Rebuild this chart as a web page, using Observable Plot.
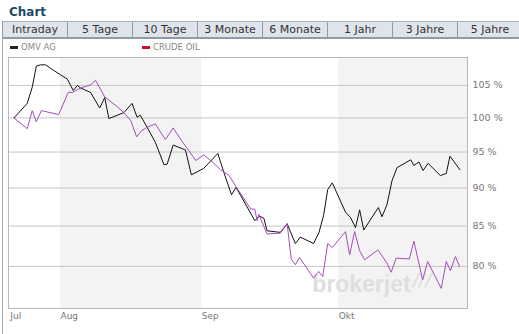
<!DOCTYPE html>
<html><head><meta charset="utf-8">
<script src="https://cdn.jsdelivr.net/npm/d3@7"></script>
<script src="https://cdn.jsdelivr.net/npm/@observablehq/plot@0.6"></script>
<style>
body{margin:0;background:#fff;font-family:"DejaVu Sans",Verdana,sans-serif;}
#wrap{position:relative;width:519px;height:334px;overflow:hidden}
#title{position:absolute;left:9px;top:5px;font-size:12px;font-weight:bold;color:#1d4b6b;line-height:14px}
#tabs{position:absolute;left:2px;top:21px;width:530px;height:15px;background:#dfe4eb;border-top:1px solid #a7b1bc;border-bottom:2px solid #8e9aa7;border-left:1px solid #8e9aa7;display:flex}
.tab{flex:0 0 65px;box-sizing:border-box;border-right:1px solid #8e9aa7;text-align:center;font-size:11px;line-height:15px;color:#333}
#vline{position:absolute;left:2px;top:38px;width:1px;height:296px;background:#a3acb6}
.leg{position:absolute;top:43px;font-size:8.5px;color:#888;line-height:9px;white-space:nowrap}
.sw{display:inline-block;width:8px;height:3px;vertical-align:middle;margin-right:3px}
#chart{position:absolute;left:0;top:52px}
</style>
</head><body>
<div id="wrap">
  <div id="title">Chart</div>
  <div id="tabs"></div>
  <div id="vline"></div>
  <div class="leg" style="left:10px"><span class="sw" style="background:#222"></span>OMV AG</div>
  <div class="leg" style="left:142px"><span class="sw" style="background:#c8102e"></span>CRUDE OIL</div>
  <div id="chart"></div>
</div>
<script>
// ---- data (day offsets relative to 1 Aug, values in % of start) ----
const tabLabels = ["Intraday","5 Tage","10 Tage","3 Monate","6 Monate","1 Jahr","3 Jahre","5 Jahre"];
const seriesNames = ["OMV AG","CRUDE OIL"];
const omvDays = [-10.2,-7.3,-6.2,-5.3,-4.4,-3.3,-1.5,0,1.5,2.8,3.7,4.4,6.6,8.6,9.7,10.6,13.9,15.7,16.8,17.5,19.0,20.8,22.7,23.4,24.7,27.4,28.7,31.4,34.5,36.0,37.5,38.5,42.6,43.6,44.6,45.3,48.2,49.7,51.5,52.6,55.5,56.7,57.7,58.6,59.6,62.5,63.6,64.7,65.6,66.5,69.7,70.5,71.6,72.7,73.8,76.8,77.5,78.6,79.5,80.6,83.3,84.6,85.4,87.6];
const omvValues = [100.0,102.2,104.7,108.1,108.3,108.3,107.4,106.7,106.0,104.2,105.0,104.6,103.9,101.5,103.1,99.9,100.8,102.2,100.1,100.4,98.6,96.4,93.2,93.3,96.0,95.3,91.8,92.7,94.8,91.8,89.1,90.1,85.7,86.3,86.0,84.4,84.2,85.3,82.8,83.6,82.8,84.2,86.4,89.8,90.7,86.8,86.1,84.8,87.1,84.5,87.4,86.2,87.8,91.0,92.8,93.9,93.1,93.6,92.4,93.4,91.7,92.0,94.4,92.5];
const oilDays = [-10.2,-7.3,-6.2,-5.3,-4.2,-0.4,1.7,2.6,4.4,6.6,7.7,9.7,12.1,13.9,15.4,16.7,17.8,19.0,20.8,23.0,24.7,26.7,29.7,31.4,33.3,35.1,37.0,38.5,41.7,42.6,43.1,43.5,45.3,48.2,49.7,50.6,51.5,52.4,55.5,56.6,57.5,58.6,59.6,62.5,63.4,64.5,65.6,66.7,69.6,71.6,72.5,73.6,76.5,77.5,79.4,80.5,83.5,84.6,85.5,86.6,87.5];
const oilValues = [100.0,98.4,101.1,99.4,101.1,100.5,103.9,103.9,104.6,105.1,105.8,103.2,101.9,100.8,99.6,97.2,98.1,98.6,99.1,96.8,98.5,96.5,93.8,94.6,93.6,92.5,91.7,90.2,87.2,87.2,85.7,86.5,84.0,84.1,85.3,80.9,80.2,81.1,78.6,79.4,78.8,82.8,82.3,84.3,81.4,84.3,81.9,80.8,82.0,80.4,79.3,81.0,80.9,83.1,78.4,80.6,77.4,80.6,79.5,81.2,80.0];
const yTicks = [80,85,90,95,100,105];
const monthLabels = ["Jul","Aug","Sep","Okt"];
const monthDays = [-11.0,0,31,61];
const shadeStart = [0,61];
const shadeEnd = [31,89.25];
const domainDays = [-11.4,89.25];
const yDomain = [75.1,109.5];
const watermark = ["brokerjet","///"];

// ---- build ----
const tabs = document.getElementById("tabs");
tabLabels.forEach(t => { const d = document.createElement("div"); d.className = "tab"; d.textContent = t; tabs.appendChild(d); });

const base = new Date(2006,7,1).getTime();
const toDate = off => new Date(base + off*864e5);
const omv = omvDays.map((d,i)=>({date: toDate(d), value: omvValues[i], name: seriesNames[0]}));
const oil = oilDays.map((d,i)=>({date: toDate(d), value: oilValues[i], name: seriesNames[1]}));
const bands = shadeStart.map((s,i)=>({start: toDate(s), end: toDate(shadeEnd[i])}));
const months = monthLabels.map((l,i)=>({date: toDate(monthDays[i]), label: l}));

const chart = Plot.plot({
  width: 519, height: 282,
  marginLeft: 8, marginRight: 52, marginTop: 5, marginBottom: 26,
  style: {fontFamily: "DejaVu Sans, sans-serif", fontSize: "9.5px", color: "#777", background: "transparent", overflow: "visible"},
  x: {type: "time", domain: domainDays.map(toDate), axis: null},
  y: {type: "log", domain: yDomain, axis: "right", ticks: yTicks, tickSize: 0, tickPadding: 5, tickFormat: d => d + " %", label: null},
  marks: [
    Plot.rect(bands, {x1: "start", x2: "end", fill: "#f3f3f3"}),
    Plot.ruleY(yTicks, {stroke: "#c6c6c6"}),
    Plot.text([watermark[0]], {x: () => toDate(55.2), y: () => 77.9, text: d => d, textAnchor: "start", fontSize: 23, fontWeight: "bold", fontFamily: "Liberation Sans, Arial, sans-serif", fill: "#dedede"}),
    Plot.text([watermark[1]], {x: () => toDate(77.3), y: () => 78.3, text: d => d, textAnchor: "start", fontSize: 17, fontWeight: "bold", fontStyle: "italic", fontFamily: "DejaVu Sans, sans-serif", fill: "#dedede"}),
    Plot.line(omv, {x: "date", y: "value", stroke: "#111", strokeWidth: 1}),
    Plot.line(oil, {x: "date", y: "value", stroke: "#a64cbf", strokeWidth: 1}),
    Plot.frame({stroke: "#b8b8b8"}),
    Plot.text(months, {x: "date", text: "label", frameAnchor: "bottom", dy: 10, textAnchor: "start", fontSize: 9, fill: "#777"})
  ]
});
document.getElementById("chart").appendChild(chart);
</script>
</body></html>
